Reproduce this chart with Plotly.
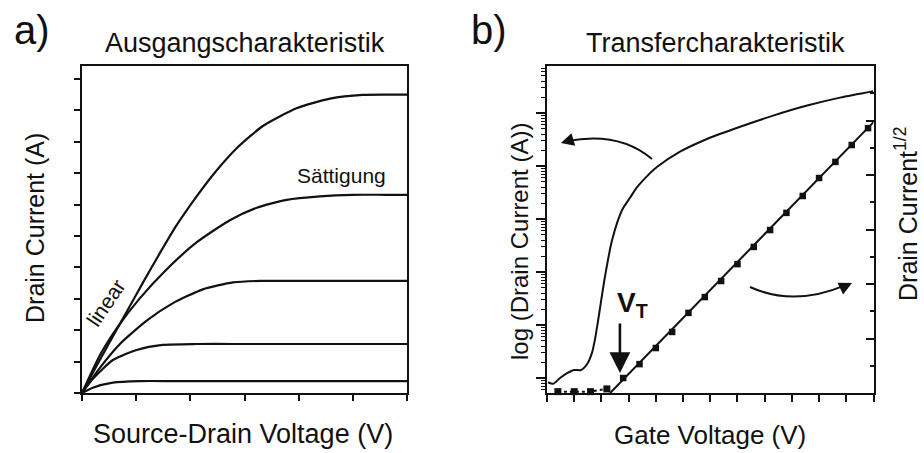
import plotly.graph_objects as go

W, H = 924, 453

# ---- a) output characteristics: drain current vs. source-drain voltage ----
vds_1 = [0, 0.28, 0.52, 0.83, 1.13, 1.44, 1.75, 2.1, 2.42, 2.86, 3.34, 3.97, 4.58, 5.18, 5.6, 6.0]
id_1 = [0, 0.90, 1.65, 2.60, 3.53, 4.46, 5.35, 6.22, 6.95, 7.80, 8.50, 9.07, 9.37, 9.49, 9.50, 9.50]
vds_2 = [0, 0.33, 0.65, 1.07, 1.57, 2.12, 2.73, 3.23, 3.78, 4.39, 5.0, 5.6, 6.0]
id_2 = [0, 1.20, 2.08, 3.02, 3.95, 4.80, 5.50, 5.90, 6.15, 6.26, 6.31, 6.31, 6.31]
vds_3 = [0, 0.33, 0.70, 1.20, 1.68, 2.23, 2.79, 3.3, 4.0, 5.0, 6.0]
id_3 = [0, 0.80, 1.56, 2.31, 2.86, 3.30, 3.52, 3.57, 3.57, 3.57, 3.57]
vds_4 = [0, 0.20, 0.57, 1.01, 1.49, 2.12, 2.8, 3.5, 4.8, 6.0]
id_4 = [0, 0.45, 1.05, 1.37, 1.53, 1.56, 1.56, 1.56, 1.56, 1.56]
vds_5 = [0, 0.20, 0.57, 1.07, 1.7, 2.5, 4.0, 6.0]
id_5 = [0, 0.17, 0.33, 0.38, 0.38, 0.38, 0.38, 0.38]

output_curves = [(vds_1, id_1), (vds_2, id_2), (vds_3, id_3), (vds_4, id_4), (vds_5, id_5)]

# ---- b) transfer characteristics ----
vg_log = [0.04, 0.22, 0.48, 0.74, 0.99, 1.25, 1.47, 1.65, 1.76, 1.88, 2.13, 2.39,
          2.76, 3.05, 3.31, 3.68, 4.04, 4.89, 5.88, 7.10, 8.31, 9.56, 10.77, 11.99]
log_id = [-12.08, -12.11, -12.0, -11.91, -11.85, -11.85, -11.74, -11.53, -11.28, -10.91,
          -10.09, -9.40, -8.83, -8.60, -8.40, -8.19, -8.02, -7.73, -7.49, -7.26,
          -7.05, -6.86, -6.71, -6.59]
id_log = [10 ** e for e in log_id]

# sqrt(I_D) samples below and above threshold
vg_sub = [0.4, 1.0, 1.6, 2.2]
sqrt_sub = [0.05, 0.05, 0.05, 0.15]
vg_on = [2.8, 3.4, 4.0, 4.6, 5.2, 5.8, 6.4, 7.0, 7.6, 8.2, 8.8, 9.4, 10.0, 10.6, 11.2, 11.8]
sqrt_on = [0.55, 1.06, 1.65, 2.24, 2.94, 3.52, 4.11, 4.73, 5.36, 5.98, 6.61, 7.23,
           7.89, 8.48, 9.10, 9.72]
# linear fit through the on-state points, crossing zero at V_T
vg_fit = [2.32, 12.0]
sqrt_fit = [0, 9.94]
vt = 2.68

INK = "#111111"
FONT = "Liberation Sans, Arial, sans-serif"

fig = go.Figure()

for vx, iy in output_curves:
    fig.add_trace(go.Scatter(x=vx, y=iy, mode="lines", xaxis="x", yaxis="y",
                             line=dict(color=INK, width=2.2, shape="spline", smoothing=0.6),
                             hoverinfo="skip"))

fig.add_trace(go.Scatter(x=vg_log, y=id_log, mode="lines", xaxis="x2", yaxis="y2",
                         line=dict(color=INK, width=2, shape="spline", smoothing=0.7),
                         hoverinfo="skip"))

fig.add_trace(go.Scatter(x=vg_sub, y=sqrt_sub, mode="lines+markers", xaxis="x2", yaxis="y3",
                         line=dict(color=INK, width=2, dash="dot"),
                         marker=dict(symbol="square", size=7, color=INK),
                         cliponaxis=False, hoverinfo="skip"))
fig.add_trace(go.Scatter(x=vg_fit, y=sqrt_fit, mode="lines", xaxis="x2", yaxis="y3",
                         line=dict(color=INK, width=2), hoverinfo="skip"))
fig.add_trace(go.Scatter(x=vg_on, y=sqrt_on, mode="markers", xaxis="x2", yaxis="y3",
                         marker=dict(symbol="square", size=6.5, color=INK),
                         cliponaxis=False, hoverinfo="skip"))

frame = dict(showline=True, linecolor=INK, linewidth=1.8, mirror=True,
             showgrid=False, zeroline=False, showticklabels=False,
             tickcolor=INK, tickwidth=1.6)

minor_log = [m * 10 ** e for e in range(-13, -5) for m in range(2, 10)]

fig.update_layout(
    width=W, height=H,
    margin=dict(l=0, r=0, t=0, b=0),
    paper_bgcolor="white", plot_bgcolor="white",
    showlegend=False,
    font=dict(family=FONT, color=INK),
    xaxis=dict(domain=[82 / W, 407 / W], range=[0, 6], anchor="y",
               ticks="outside", ticklen=6, tickmode="linear", tick0=0, dtick=1, **frame),
    yaxis=dict(domain=[1 - 393 / H, 1 - 66 / H], range=[0, 10.41], anchor="x",
               ticks="outside", ticklen=6, tickmode="linear", tick0=0, dtick=1, **frame),
    xaxis2=dict(domain=[547 / W, 873.5 / W], range=[0, 12], anchor="y2",
                ticks="outside", ticklen=7, tickmode="linear", tick0=0, dtick=1, **frame),
    yaxis2=dict(domain=[1 - 393 / H, 1 - 66 / H], type="log", range=[-12.283, -6.113],
                anchor="x2", ticks="outside", ticklen=9,
                tickmode="array", tickvals=[10 ** e for e in range(-13, -5)],
                minor=dict(ticks="outside", ticklen=4, tickcolor=INK, tickwidth=1.2,
                           tickmode="array", tickvals=minor_log),
                **frame),
    yaxis3=dict(overlaying="y2", anchor="x2", side="right", range=[0, 12],
                showline=False, showgrid=False, zeroline=False, showticklabels=False,
                ticks="inside", ticklen=8, tickcolor=INK, tickwidth=1.6,
                tickmode="linear", tick0=0, dtick=2,
                minor=dict(ticks="inside", ticklen=4, tickcolor=INK, tickwidth=1.6,
                           tickmode="linear", tick0=0, dtick=1)),
)


def px(x, y):
    return x / W, 1 - y / H


def label(text, x, y, size, angle=0, bold=False):
    ax, ay = px(x, y)
    if bold:
        text = "<b>" + text + "</b>"
    fig.add_annotation(text=text, x=ax, y=ay, xref="paper", yref="paper",
                       xanchor="center", yanchor="middle", showarrow=False,
                       textangle=angle, font=dict(family=FONT, size=size, color=INK))


label("a)", 32, 30, 40)
label("Ausgangscharakteristik", 245, 43, 27)
label("b)", 489, 30, 40)
label("Transfercharakteristik", 715, 43, 27)
label("Drain Current (A)", 35, 228, 25, angle=-90)
label("Source-Drain Voltage (V)", 243, 434, 27)
label("Gate Voltage (V)", 710, 435, 26)
label("log (Drain Current (A))", 520, 242, 24, angle=-90)
label("Drain Current<sup>1/2</sup>", 906, 214, 25, angle=-90)
label("Sättigung", 341, 175, 21)
label("linear", 105, 303, 21, angle=-56)
label("V<sub>T</sub>", 632, 304, 28, bold=True)

# threshold arrow
fig.add_annotation(x=vt, y=0.73, ax=vt, ay=2.61, xref="x2", yref="y3",
                   axref="x2", ayref="y3", text="", showarrow=True,
                   arrowhead=2, arrowsize=1.6, arrowwidth=2.6, arrowcolor=INK)

# curved arrows pointing to the relevant y axis
fig.add_shape(type="path", xref="x2", yref="y3",
              path="M 3.86,8.59 Q 2.65,9.61 0.75,9.25",
              line=dict(color=INK, width=2))
fig.add_annotation(x=0.51, y=9.17, ax=0.95, ay=9.30, xref="x2", yref="y3",
                   axref="x2", ayref="y3", text="", showarrow=True,
                   arrowhead=2, arrowsize=1.3, arrowwidth=2, arrowcolor=INK)
fig.add_shape(type="path", xref="x2", yref="y3",
              path="M 7.46,3.89 Q 9.08,3.16 10.95,3.95",
              line=dict(color=INK, width=2))
fig.add_annotation(x=11.21, y=4.04, ax=10.75, ay=3.82, xref="x2", yref="y3",
                   axref="x2", ayref="y3", text="", showarrow=True,
                   arrowhead=2, arrowsize=1.3, arrowwidth=2, arrowcolor=INK)

fig.write_html("out.html")
